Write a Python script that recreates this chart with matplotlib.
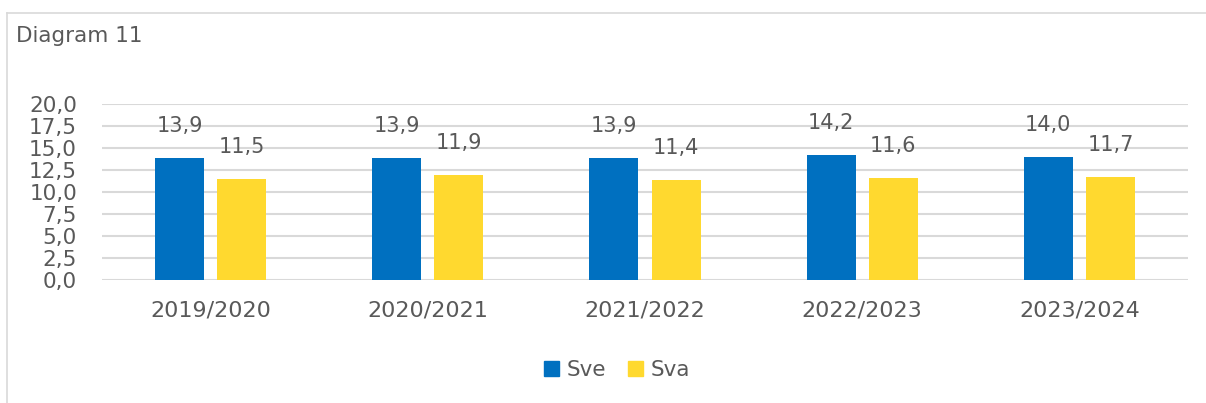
import matplotlib
matplotlib.use("Agg")
import matplotlib.pyplot as plt
from matplotlib.lines import Line2D
from matplotlib.patches import Rectangle
import numpy as np

categories = ["2019/2020", "2020/2021", "2021/2022", "2022/2023", "2023/2024"]
sve = [13.9, 13.9, 13.9, 14.2, 14.0]
sva = [11.5, 11.9, 11.4, 11.6, 11.7]
series_names = ["Sve", "Sva"]
yticks = [0.0, 2.5, 5.0, 7.5, 10.0, 12.5, 15.0, 17.5, 20.0]

BLUE = "#0070C0"
YELLOW = "#FFD92F"
TXT = "#595959"
GRID = "#D9D9D9"

plt.rcParams["font.family"] = ["DejaVu Sans"]
FS = 15.5

W, H = 1206, 403
fig = plt.figure(figsize=(W / 100, H / 100), dpi=100)

# frame lines
fig.add_artist(Line2D([7 / W, 7 / W], [0, 1 - 13 / H], color=GRID, lw=1.2))
fig.add_artist(Line2D([7 / W, 1], [1 - 13 / H, 1 - 13 / H], color=GRID, lw=1.2))

fig.text(16 / W, 1 - 36 / H, "Diagram 11", fontsize=FS, color=TXT, va="center", ha="left")

left, right = 102, 1188
top, bottom = 104, 280
ax = fig.add_axes([left / W, 1 - bottom / H, (right - left) / W, (bottom - top) / H])
ax.set_xlim(-0.5, len(categories) - 0.5)
ax.set_ylim(0, 20)

x = np.arange(len(categories))
bw = 0.226
off = 0.143
b1 = ax.bar(x - off, sve, bw, color=BLUE, zorder=3)
b2 = ax.bar(x + off, sva, bw, color=YELLOW, zorder=3)

def fmt(v):
    return f"{v:.1f}".replace(".", ",")

for bars, vals in ((b1, sve), (b2, sva)):
    for r, v in zip(bars, vals):
        ax.annotate(fmt(v), (r.get_x() + r.get_width() / 2, v), xytext=(0, 23),
                    textcoords="offset points", ha="center", va="center",
                    fontsize=FS - 0.5, color=TXT)

ax.set_yticks(yticks)
ax.set_yticklabels([fmt(t) for t in yticks], fontsize=FS, color=TXT)
ax.set_xticks(x)
ax.set_xticklabels(categories, fontsize=FS + 0.5, color=TXT)
ax.tick_params(axis="y", length=0, pad=18)
ax.tick_params(axis="x", length=0, pad=15)
ax.yaxis.grid(True, color=GRID, lw=1.5, zorder=0)
ax.set_axisbelow(True)
for s in ax.spines.values():
    s.set_visible(False)

# legend
handles = [Rectangle((0, 0), 1, 1, color=BLUE), Rectangle((0, 0), 1, 1, color=YELLOW)]
fig.legend(handles, series_names, loc="center", bbox_to_anchor=(617 / W, 1 - 370 / H),
           ncol=2, frameon=False, fontsize=FS, labelcolor=TXT, handlelength=0.7,
           handleheight=0.7, handletextpad=0.35, columnspacing=1.0)

fig.savefig("out.png", dpi=100)
